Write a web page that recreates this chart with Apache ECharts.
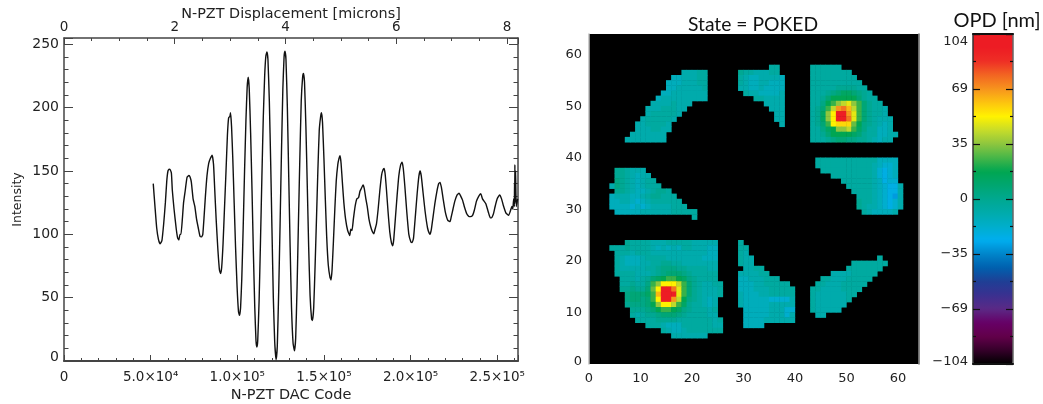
<!DOCTYPE html>
<html><head><meta charset="utf-8">
<style>html,body{margin:0;padding:0;background:#fff}#c{width:1043px;height:404px}</style>
<script src="https://cdn.jsdelivr.net/npm/echarts@6/dist/echarts.min.js"></script>
</head><body><div id="c"></div>
<script>
const dacCode=[51500,52500,53500,54500,55500,56500,57500,58500,59300,60000,60700,61300,62000,62500,63500,64800,65600,66300,66900,67500,68300,69000,70000,71000,72100,72800,73500,74500,75500,76500,77500,78500,79400,80100,80800,81600,82500,83500,84500,85500,86300,87000,87800,88800,89700,90400,91000,91800,92600,93500,94300,95000,95700,96100,96700,97400,98200,99000,99900,100700,101300,101900,102600,103400,104200,105000,105700,106300,106900,107700,108500,109300,110100,110800,111300,111800,112600,113400,114200,115000,115800,116500,117100,117700,118500,119300,120000,120800,121600,122400,123100,123900,124700,125500,126300,127000,127500,128100,128900,129700,130500,131300,132200,133000,133700,134500,135300,136100,136900,137700,138200,138800,139600,140400,141200,142000,142900,143400,144100,144900,145700,146500,147300,148100,148600,149200,150000,150800,151600,152500,153500,154100,154700,155500,156300,157100,158000,158700,159300,159900,160700,161500,162500,163700,164900,165500,166200,167000,168000,169000,170000,170800,171500,172600,173300,174200,175000,176000,177000,178000,178800,179500,180300,181300,182300,183300,184100,184700,185300,186100,187000,188000,189000,189700,190300,191200,192200,193200,194300,195100,195800,196700,197800,199000,200200,200900,201700,202800,203800,204800,205500,206200,207200,208400,209800,210700,211200,212000,213000,214000,215200,216200,217000,217800,218800,220000,221500,222800,223500,224500,225500,226800,228000,229000,230000,231000,232500,233800,234500,235800,236800,238000,239300,240500,241500,242500,243500,245000,246000,246600,247800,248800,250000,251400,252500,253500,255000,256600,257500,258500,259000,259500,259900,260000,260100,260200,260300,260400,260500,260600,261000,261800];
const intensity=[140,122,105,96,92.5,95,108,125,142,150,151.5,151,148,135,120,104,97,95.5,100,100,112,125,135,145,146.5,145,141,128,122,112,105,98.5,98,100,113,130,146,156,160,162.5,155,135,112,88,72,69,74,93,120,150,178,192,193,196,185,160,125,90,58,39,36,42,65,105,150,190,216,224,215,180,135,85,42,16,11,16,48,95,145,192,225,241,244,238,205,155,105,50,15,1,12,55,108,165,215,240,244.5,238,200,145,90,42,14,8,18,58,110,160,205,224,227,220,185,138,90,52,33,32,42,75,112,150,182,193,196,188,160,128,98,76,66,64,72,95,120,142,155,160,162,156,140,125,112,103,99,104,103,112,122,128,129,134,136,139,136,128,122,112,106,102,100.5,104,108,120,135,147,151,152,148,135,118,102,93,91,96,112,130,146,155,157,152,138,118,100,94,93.5,97,115,132,146,150,146,133,118,105,101,100,104,114,124,134,140,141,137,128,118,111,110,114,120,126,131,132.5,130,127,122,116,114,114,115,119,126,130,132,128,126,124,117,113,113,116,122,128,131,128,123,117,115,118,122,120,128,122,140,124,155,125,148,126,150,122,128,124];

const dacTicks={50000:'5.0×10⁴',100000:'1.0×10⁵',150000:'1.5×10⁵',200000:'2.0×10⁵',250000:'2.5×10⁵',0:'0'};
const opdLevelKeys='ZABCDEFGHIJKLMNOPQRSTU';
const opdLevelValues=[-30,-23,-18,-13,-9,-5,-1,3,7,12,17,24,30,35,42,48,52,57,63,69,75,95];
const opdColors=['#000000','#35002a','#63004a','#660066','#5b2a86','#3a3090','#1f3f95','#0060ae','#0085ca','#00aeef','#00aecb','#00abab','#00a890','#00a670','#00a651','#47b648','#8dc63f','#c7dc2a','#fff200','#fdc40f','#f7941d','#f26522','#ee2f25','#ed1c24','#ed1c24'];

// row, first column, one level letter per cell
const opdCells=[
[57,35,"EE"],[57,43,"EEEEEE"],
[56,18,"DDDEE"],[56,29,"FEEDDDEE"],[56,43,"EEEEEEEE"],
[55,16,"CCDDDEE"],[55,29,"EDCCDDDDC"],[55,43,"EEEEEEEEE"],
[54,15,"CCCDDDEE"],[54,29,"EDCCDDCCC"],[54,43,"EEEEEEEEEE"],
[53,15,"CCDDDDDE"],[53,29,"DDCCDCCCC"],[53,43,"EEEEEFFFFEE"],
[52,14,"CCDDDDDDD"],[52,30,"EDDCCCCD"],[52,43,"EEEFGHIIHGFE"],
[51,13,"CDDDDDDDDD"],[51,32,"EEDDDD"],[51,43,"EEFHJJJJJHFEE"],
[50,12,"DDDDEDDD"],[50,34,"DDDD"],[50,43,"EEGJKMNOMKHFEE"],
[49,11,"DDDEEEDD"],[49,35,"DDD"],[49,43,"EFHKNSTRNKHFEED"],
[48,11,"DEEEEED"],[48,36,"DD"],[48,43,"EFIMPUUSOKHFEED"],
[47,10,"DEEEEED"],[47,36,"DD"],[47,43,"EFIMPUUTOKHFEDDD"],
[46,9,"DDEEEED"],[46,37,"D"],[46,43,"EFHKPQQQLJGFEDCD"],
[45,9,"DDDEEDD"],[45,43,"EEGIJMMNKIGEECCD"],
[44,8,"DDDDDDD"],[44,43,"EEFHJJJJIHFEECCDD"],
[43,7,"DDDDDDDD"],[43,43,"EEEFGHHGGFFEDCDD"],
[39,44,"EEEEEEEEEEEECCCC"],[38,44,"EEEEEEEEEEEDCBBC"],[37,45,"EEEEEEEEEEDBABC"],[37,5,"FFEDDD"],
[36,47,"EEEEEEEEDBABC"],[36,5,"FFEDCDD"],[35,49,"EEEEEEDCABB"],[35,5,"GFEDCDEE"],
[34,50,"EEEEEDCBAAD"],[34,4,"DGFEDCDEEE"],[33,51,"EEEEDCBAAD"],[33,5,"FFEDCCDEFFE"],
[32,52,"EEEDCBAZD"],[32,4,"CDDDCCDEFFEEE"],[31,52,"FEEDCBABD"],[31,4,"CCDDCBCDEEEEEE"],
[30,52,"FEDDCBABD"],[30,4,"CCCCBCBCDDDDEEE"],[29,53,"EDCCCCD"],[29,5,"CCCCCDDDDDDEEEEE"],[28,20,"E"],
[23,7,"FEEEEDDDEEEEEDDDDD"],[23,29,"E"],
[22,4,"EEEFEEEEDCDCDCEEDDDCC"],[22,29,"EE"],
[21,5,"EEEDEEEDDDDDDDDDDDCC"],[21,29,"ED"],
[20,5,"EDCCCDEEEEDDDDDDDCCC"],[20,29,"EDD"],[20,56,"E"],
[19,5,"EDCCCDDEEFFEEDDDDDDD"],[19,29,"EDD"],[19,51,"EEEEEEE"],
[18,5,"EDDDDDEEFGGGFFEEEEDD"],[18,30,"DDEE"],[18,50,"EEEEEEE"],
[17,5,"EEEEDDDEFGHHHGFEEEEE"],[17,29,"DDDDEE"],[17,47,"DDDDEEEEE"],
[16,6,"EEEDEFHIJKKJIGFEEEE"],[16,29,"CCDDDEEE"],[16,45,"EEDDDEEEEE"],
[15,6,"EEFEEGKMPPPNKHFEDDEE"],[15,29,"CCCDDEEEEE"],[15,44,"EEDDDEEEEE"],
[14,6,"FFGFFHLPUUTOKHFEDDDE"],[14,29,"CCCDDDEEEEE"],[14,43,"EEDDDDEEEE"],
[13,7,"GHHHIKRUUUOKHFEDDDE"],[13,29,"DCCCDDEEEEE"],[13,43,"EDDDDDDEE"],
[12,7,"GHHGHKPUUSNJGFEDCD"],[12,29,"DCCCCCBBBBD"],[12,43,"EDDDDDDE"],
[11,7,"FGGGHJMPPNKIFEEDCD"],[11,29,"DCCCCCDDDDD"],[11,43,"EDDDDDD"],
[10,8,"FFFGHJKKJIGFEEEDE"],[10,30,"CCCCCDDDBB"],[10,43,"EDDDDD"],
[9,8,"EDEFFGHHHGFEEEEDD"],[9,30,"CCCCCDDDBD"],[9,44,"DD"],
[8,9,"EEEEFFFFEEEEEEEDE"],[8,30,"CCCCDDDDDD"],
[7,11,"EEEDCCCEEEEEEDD"],[7,30,"CCCC"],
[6,14,"EDCCDEEEEEEE"],[5,16,"DDDDDDD"]
];

const heatData=[];
opdCells.forEach(([row,col,s])=>{for(let i=0;i<s.length;i++)heatData.push([col+i,row,opdLevelValues[opdLevelKeys.indexOf(s[i])]]);});
const cells=Array.from({length:64},(_,i)=>String(i));
const ink='#222', axisInk='#444', mono='DejaVu Sans';
const lbl={color:ink,fontFamily:mono,fontSize:13.5,showMaxLabel:false};
const inTick=(len)=>({show:true,inside:true,length:len,lineStyle:{color:axisInk,width:1}});
const minor=(n,len)=>({show:true,splitNumber:n,length:len,lineStyle:{color:axisInk,width:1}});
const line=(w,c)=>({show:true,onZero:false,lineStyle:{color:c||axisInk,width:w}});
const none={show:false};
const shift=(size,low)=>({lo:{fontFamily:mono,fontSize:size,color:ink,padding:[0,0,low,0]},hi:{fontFamily:mono,fontSize:size,color:ink,padding:[16,0,0,0]}});

const option={
 animation:false,backgroundColor:'#fff',
 grid:[
  {left:64,top:38,width:454,height:323,outerBoundsMode:'none'},
  {left:589,top:34,width:329.5,height:330,show:true,backgroundColor:'#000',borderWidth:0,outerBoundsMode:'none'},
  {left:973,top:34,width:40,height:330,outerBoundsMode:'none'}
 ],
 title:[
  {text:'State = POKED',left:748,top:10,textAlign:'center',textStyle:{fontFamily:'Lato',fontWeight:'normal',fontSize:19.3,color:'#111'}},
  {text:'OPD [nm]',left:992,top:6,textAlign:'center',textStyle:{fontFamily:'Lato',fontWeight:'normal',fontSize:20,color:'#111'}}
 ],
 visualMap:{type:'continuous',seriesIndex:1,dimension:2,min:-104,max:104,left:973,top:34,itemWidth:40,itemHeight:330,padding:0,calculable:false,hoverLink:false,text:['',''],showLabel:false,inRange:{color:opdColors}},
 xAxis:[
  {type:'value',gridIndex:0,position:'bottom',min:0,max:262000,interval:50000,axisLine:line(2),axisTick:inTick(6),minorTick:minor(5,3),splitLine:none,
   name:'N-PZT DAC Code',nameLocation:'middle',nameGap:27,nameMoveOverlap:false,nameTextStyle:{color:ink,fontFamily:mono,fontSize:14.5},
   axisLabel:{...lbl,margin:9,formatter:v=>dacTicks[v]||''}},
  {type:'value',gridIndex:0,position:'top',min:0,max:8.2,interval:2,axisLine:line(1.5),axisTick:inTick(6),minorTick:minor(4,3),splitLine:none,
   name:'N-PZT Displacement [microns]',nameLocation:'middle',nameGap:17,nameMoveOverlap:false,nameTextStyle:{color:ink,fontFamily:mono,fontSize:14.4},
   axisLabel:{...lbl,margin:4}},
  {type:'value',gridIndex:1,position:'bottom',min:0,max:64,interval:10,axisLine:none,axisTick:none,splitLine:none,axisLabel:{...lbl,fontSize:13,margin:8}},
  {type:'category',gridIndex:1,data:cells,show:false,boundaryGap:true},
  {type:'value',gridIndex:2,position:'bottom',min:-1,max:1,axisLine:{...line(2,'#111')},axisTick:none,axisLabel:none,splitLine:none,z:10},
  {type:'value',gridIndex:2,position:'top',min:-1,max:1,axisLine:{...line(2,'#111')},axisTick:none,axisLabel:none,splitLine:none,z:10}
 ],
 yAxis:[
  {type:'value',gridIndex:0,position:'left',min:0,max:255,interval:50,axisLine:line(1.5),axisTick:inTick(9),minorTick:minor(5,4.5),splitLine:none,
   name:'Intensity',nameLocation:'middle',nameGap:40,nameMoveOverlap:false,nameRotate:90,nameTextStyle:{color:ink,fontFamily:mono,fontSize:12.5},
   axisLabel:{...lbl,fontSize:14,margin:5,rich:shift(14,8),formatter:v=>v===0?'{lo|0}':String(v)}},
  {type:'value',gridIndex:0,position:'right',min:0,max:255,interval:50,axisLine:line(1.5),axisTick:inTick(9),minorTick:minor(5,4.5),splitLine:none,axisLabel:none},
  {type:'value',gridIndex:1,position:'left',min:0,max:64,interval:10,axisLine:line(1.5,'#bbb'),axisTick:none,splitLine:none,axisLabel:{...lbl,fontSize:13,margin:7,rich:shift(13,5),formatter:v=>v===0?'{lo|0}':String(v)}},
  {type:'value',gridIndex:1,position:'right',min:0,max:64,interval:10,axisLine:line(1.5,'#666'),axisTick:none,splitLine:none,axisLabel:none},
  {type:'category',gridIndex:1,data:cells,show:false,boundaryGap:true},
  {type:'value',gridIndex:2,position:'left',min:-104,max:104,interval:104/3,axisLine:line(1.5,'#333'),axisTick:{...inTick(7),lineStyle:{color:'#111',width:1.2}},minorTick:{...minor(2,3),lineStyle:{color:'#111',width:1.2}},splitLine:none,z:10,
   axisLabel:{color:ink,fontFamily:mono,fontSize:13,margin:5,rich:shift(13,5),formatter:v=>{const r=Math.round(v);if(r===104)return '{hi|104}';if(r===-104)return '{lo|−104}';return r<0?'−'+(-r):String(r);}}},
  {type:'value',gridIndex:2,position:'right',min:-104,max:104,interval:104/3,axisLine:line(1.5,'#666'),axisTick:{...inTick(7),lineStyle:{color:'#111',width:1.2}},minorTick:{...minor(2,3),lineStyle:{color:'#111',width:1.2}},splitLine:none,axisLabel:none,z:10}
 ],
 series:[
  {type:'line',xAxisIndex:0,yAxisIndex:0,data:dacCode.map((x,i)=>[x,intensity[i]]),showSymbol:false,symbol:'none',smooth:0.15,lineStyle:{color:'#111',width:1.4},sampling:'none'},
  {type:'heatmap',xAxisIndex:3,yAxisIndex:4,data:heatData,progressive:0,itemStyle:{borderWidth:0}}
 ]
};
echarts.init(document.getElementById('c'),null,{renderer:'canvas'}).setOption(option);
</script></body></html>
